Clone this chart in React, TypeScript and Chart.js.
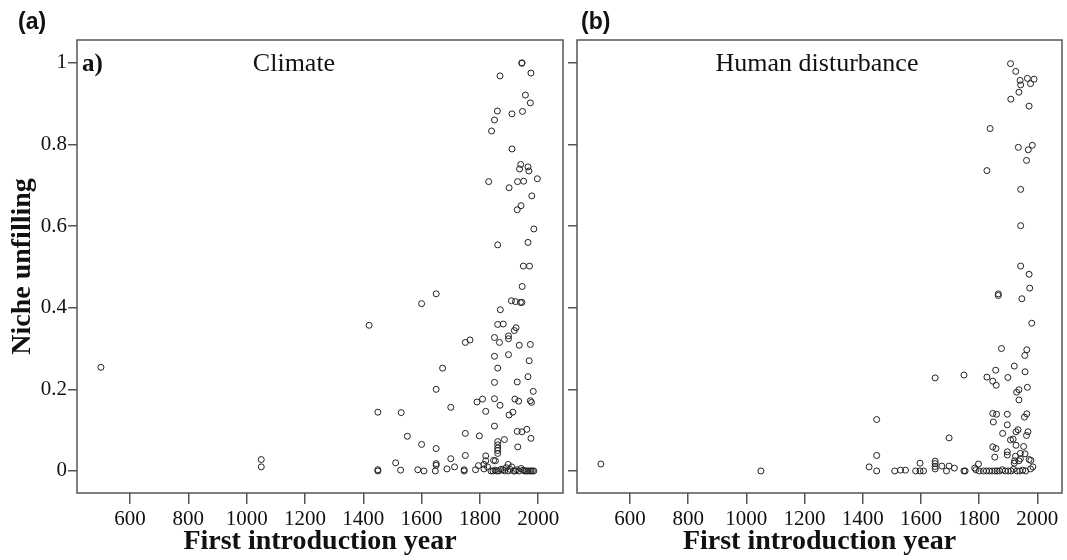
import React, { useEffect, useRef } from "react";
import { Chart, registerables } from "chart.js";

Chart.register(...registerables);

// ---- axes ----
const X_TICKS = [600, 800, 1000, 1200, 1400, 1600, 1800, 2000];
const Y_TICKS = [0, 0.2, 0.4, 0.6, 0.8, 1];
const Y_TICK_LABELS = ["0", "0.2", "0.4", "0.6", "0.8", "1"];
const X_MIN = 418;
const X_MAX = 2085;
const Y_MIN = -0.054;
const Y_MAX = 1.056;

const PANEL_TITLES = ["Climate", "Human disturbance"];
const PANEL_TAGS = ["(a)", "(b)"];
const X_TITLE = "First introduction year";
const Y_TITLE = "Niche unfilling";

// ---- data: [first introduction year, niche unfilling] ----
const CLIMATE_POINTS: [number, number][] = [
  [1944, 1.0], [1944, 0.999], [1975, 0.975], [1869, 0.968], [1956, 0.921], [1973, 0.902],
  [1860, 0.882], [1910, 0.875], [1946, 0.881], [1850, 0.86], [1840, 0.833], [1910, 0.789],
  [1940, 0.751], [1965, 0.745], [1936, 0.74], [1968, 0.735], [1830, 0.709], [1929, 0.709],
  [1950, 0.71], [1997, 0.716], [1900, 0.694], [1978, 0.674], [1941, 0.65], [1928, 0.64],
  [1985, 0.593], [1861, 0.554], [1965, 0.56],
  [1949, 0.502], [1970, 0.502], [1945, 0.452], [1600, 0.41], [1650, 0.434], [1908, 0.417],
  [1922, 0.415], [1939, 0.413], [1944, 0.413], [1870, 0.395], [1861, 0.359], [1880, 0.36],
  [1918, 0.344], [1924, 0.351], [1898, 0.331], [1898, 0.324], [1850, 0.327], [1867, 0.315],
  [1750, 0.315], [1766, 0.321], [1935, 0.308], [1973, 0.31], [1850, 0.281], [1898, 0.285],
  [1969, 0.27], [1861, 0.252], [1672, 0.252], [1850, 0.217], [1928, 0.218], [1965, 0.231],
  [1983, 0.195], [1650, 0.2], [1790, 0.169], [1809, 0.176], [1850, 0.177], [1869, 0.161],
  [1920, 0.176], [1933, 0.171], [1973, 0.172], [1977, 0.168], [1700, 0.156], [1820, 0.146],
  [1900, 0.137], [1913, 0.144], [1450, 0.144], [1530, 0.143], [1850, 0.11], [1928, 0.097],
  [1944, 0.096], [1961, 0.102], [1975, 0.08], [1551, 0.085], [1750, 0.092], [1798, 0.086],
  [1884, 0.077], [1600, 0.065], [1930, 0.059], [1650, 0.055], [1861, 0.072], [1861, 0.064],
  [1861, 0.056], [1861, 0.05], [1861, 0.043], [1750, 0.038], [1820, 0.037], [1700, 0.03],
  [1511, 0.02], [1650, 0.018], [1650, 0.014], [1820, 0.025], [1853, 0.025], [1420, 0.357],
  [500, 0.254], [1050, 0.028], [1050, 0.01],
  [1450, 0.003], [1450, 0.0], [1528, 0.002], [1587, 0.003], [1608, 0.0], [1647, 0.0],
  [1687, 0.005], [1713, 0.01], [1746, 0.003], [1746, 0.0], [1785, 0.003], [1795, 0.013],
  [1814, 0.016], [1814, 0.005], [1826, 0.01], [1838, 0.0], [1847, 0.026], [1858, 0.0],
  [1879, 0.003], [1897, 0.016], [1897, 0.0], [1909, 0.01], [1921, 0.0], [1941, 0.006],
  [1953, 0.0], [1964, 0.0], [1970, 0.0], [1980, 0.0], [1985, 0.0], [1845, 0.0],
  [1852, 0.002], [1865, 0.0], [1872, 0.004], [1885, 0.0], [1890, 0.008], [1903, 0.004],
  [1915, 0.0], [1926, 0.003], [1934, 0.0], [1948, 0.002], [1958, 0.0], [1975, 0.0],
];

const HUMAN_POINTS: [number, number][] = [
  [500, 0.017], [1050, 0.0],
  [1908, 0.998], [1926, 0.979], [1941, 0.957], [1943, 0.946], [1966, 0.962], [1977, 0.949],
  [1989, 0.96], [1937, 0.928], [1909, 0.911], [1972, 0.894], [1838, 0.839], [1935, 0.793],
  [1969, 0.787], [1983, 0.798], [1963, 0.761], [1827, 0.736], [1943, 0.69], [1943, 0.601],
  [1943, 0.502], [1972, 0.482], [1974, 0.448], [1947, 0.422], [1866, 0.434], [1866, 0.43],
  [1981, 0.362], [1877, 0.3], [1964, 0.297], [1957, 0.283], [1921, 0.257], [1857, 0.247],
  [1958, 0.243], [1649, 0.228], [1748, 0.235], [1827, 0.23], [1847, 0.22], [1859, 0.21],
  [1899, 0.229], [1966, 0.205], [1929, 0.193], [1937, 0.199], [1937, 0.174], [1847, 0.141],
  [1860, 0.139], [1897, 0.139], [1956, 0.132], [1964, 0.14], [1849, 0.12], [1897, 0.113],
  [1448, 0.126], [1697, 0.081], [1881, 0.092], [1927, 0.096], [1934, 0.101], [1963, 0.087],
  [1968, 0.096], [1908, 0.076], [1917, 0.078], [1927, 0.063], [1953, 0.06], [1847, 0.059],
  [1858, 0.055], [1897, 0.047], [1897, 0.039], [1942, 0.043], [1958, 0.042], [1854, 0.034],
  [1448, 0.038],
  [1597, 0.019], [1649, 0.024], [1649, 0.018], [1649, 0.011], [1649, 0.005], [1697, 0.012],
  [1715, 0.007], [1672, 0.012], [1422, 0.01], [1448, 0.0], [1510, 0.0], [1530, 0.002],
  [1547, 0.002], [1582, 0.0], [1597, 0.0], [1609, 0.0], [1688, 0.0], [1748, 0.0],
  [1752, 0.0], [1785, 0.007], [1798, 0.017], [1789, 0.003], [1921, 0.019], [1922, 0.025],
  [1937, 0.025], [1972, 0.028], [1978, 0.026], [1977, 0.005], [1925, 0.036], [1942, 0.03],
  [1800, 0.0], [1815, 0.0], [1825, 0.0], [1835, 0.0], [1845, 0.0], [1855, 0.0],
  [1862, 0.0], [1870, 0.0], [1880, 0.003], [1890, 0.0], [1900, 0.0], [1910, 0.0],
  [1918, 0.004], [1930, 0.0], [1940, 0.0], [1950, 0.002], [1960, 0.0], [1985, 0.01],
];

const SERIF = "'Liberation Serif', 'Times New Roman', serif";
const SANS = "'Liberation Sans', Arial, sans-serif";
const INK = "#111";
const FRAME = "#555";

type TextItem = { text: string; x: number; y: number; font: string; align: CanvasTextAlign };

const boxAndText = {
  id: "boxAndText",
  afterDraw(chart: any, _args: any, opts: any) {
    const { ctx, chartArea } = chart;
    ctx.save();
    ctx.strokeStyle = FRAME;
    ctx.lineWidth = 1.5;
    ctx.strokeRect(chartArea.left, chartArea.top, chartArea.right - chartArea.left, chartArea.bottom - chartArea.top);
    const items: TextItem[] = (opts && opts.items) || [];
    ctx.fillStyle = INK;
    ctx.textBaseline = "alphabetic";
    for (const it of items) {
      ctx.font = it.font;
      ctx.textAlign = it.align;
      ctx.fillText(it.text, it.x, it.y);
    }
    ctx.restore();
  },
};

function makeConfig(points: [number, number][], panel: number): any {
  const isLeft = panel === 0;
  const items: TextItem[] = isLeft
    ? [
        { text: PANEL_TAGS[0], x: 18, y: 29, font: `bold 23px ${SANS}`, align: "left" },
        { text: "a)", x: 82, y: 71, font: `bold 25px ${SERIF}`, align: "left" },
        { text: PANEL_TITLES[0], x: 294, y: 71, font: `26px ${SERIF}`, align: "center" },
      ]
    : [
        { text: PANEL_TAGS[1], x: 13, y: 29, font: `bold 23px ${SANS}`, align: "left" },
        { text: PANEL_TITLES[1], x: 249, y: 71, font: `26px ${SERIF}`, align: "center" },
      ];
  return {
    type: "scatter",
    data: {
      datasets: [
        {
          data: points.map(([x, y]) => ({ x, y })),
          pointStyle: "circle",
          pointRadius: 3,
          pointBorderWidth: 1,
          pointBorderColor: "#222",
          pointBackgroundColor: "rgba(0,0,0,0)",
        },
      ],
    },
    options: {
      responsive: false,
      animation: false,
      layout: { padding: { top: 40, right: isLeft ? 4 : 3, bottom: 0, left: 0 } },
      plugins: {
        legend: { display: false },
        tooltip: { enabled: false },
        boxAndText: { items },
      },
      scales: {
        x: {
          type: "linear",
          min: X_MIN,
          max: X_MAX,
          afterBuildTicks: (axis: any) => {
            axis.ticks = X_TICKS.map((v) => ({ value: v }));
          },
          afterFit: (axis: any) => {
            axis.height = 67;
          },
          ticks: {
            autoSkip: false,
            maxRotation: 0,
            padding: 3,
            color: INK,
            font: { family: SERIF, size: 21 },
            callback: (v: any) => String(v),
          },
          grid: { display: true, drawOnChartArea: false, drawTicks: true, tickLength: 11, color: FRAME, lineWidth: 1.5 },
          border: { display: false },
          title: {
            display: true,
            text: X_TITLE,
            color: INK,
            font: { family: SERIF, size: 28, weight: "bold", lineHeight: 1.2 },
            padding: { top: 0, bottom: 1 },
          },
        },
        y: {
          type: "linear",
          min: Y_MIN,
          max: Y_MAX,
          afterBuildTicks: (axis: any) => {
            axis.ticks = Y_TICKS.map((v) => ({ value: v }));
          },
          afterFit: (axis: any) => {
            axis.width = isLeft ? 77 : 9;
          },
          ticks: {
            display: isLeft,
            padding: 1,
            color: INK,
            font: { family: SERIF, size: 21 },
            callback: (_v: any, i: number) => Y_TICK_LABELS[i],
          },
          grid: { display: true, drawOnChartArea: false, drawTicks: true, tickLength: 9, color: FRAME, lineWidth: 1.5 },
          border: { display: false },
          title: {
            display: isLeft,
            text: Y_TITLE,
            color: INK,
            font: { family: SERIF, size: 28, weight: "bold", lineHeight: 1.2 },
            padding: { top: 6, bottom: 0 },
          },
        },
      },
    },
    plugins: [boxAndText],
  };
}

function Panel({ points, panel, left, width }: { points: [number, number][]; panel: number; left: number; width: number }) {
  const ref = useRef<HTMLCanvasElement | null>(null);
  useEffect(() => {
    if (!ref.current) return;
    const chart = new Chart(ref.current, makeConfig(points, panel));
    return () => chart.destroy();
  }, [points, panel]);
  return (
    <canvas
      ref={ref}
      width={width}
      height={560}
      style={{ position: "absolute", left, top: 0, width, height: 560, display: "block" }}
    />
  );
}

export default function App() {
  return (
    <div style={{ position: "absolute", left: 0, top: 0, width: 1067, height: 560, background: "#fff", overflow: "hidden" }}>
      <Panel points={CLIMATE_POINTS} panel={0} left={0} width={568} />
      <Panel points={HUMAN_POINTS} panel={1} left={568} width={499} />
    </div>
  );
}
